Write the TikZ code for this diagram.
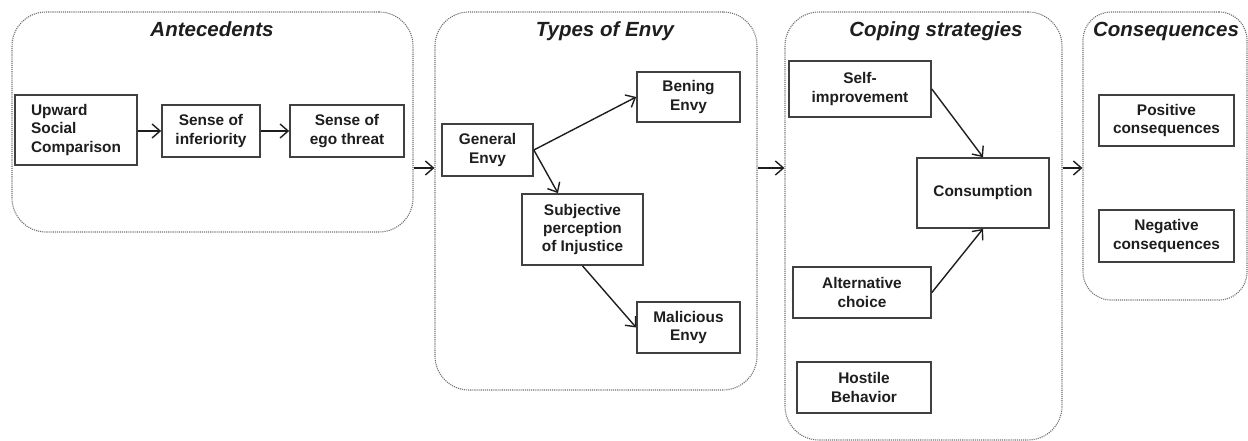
\documentclass[tikz,border=0pt]{standalone}
\usepackage{fontspec}
\setmainfont{Liberation Sans}
\usetikzlibrary{arrows.meta,calc}

\definecolor{ink}{HTML}{1E1E1E}
\definecolor{frame}{HTML}{707070}

\tikzset{
  stage/.style={draw=frame, line width=1.1pt, densely dotted, rounded corners=34pt},
  stagetitle/.style={anchor=base, text=ink, font=\fontsize{20.5}{24}\selectfont\bfseries\itshape},
  box/.style={draw=ink!85, line width=1.7pt, fill=white, text=ink, align=center,
    inner sep=2pt, font=\fontsize{15.4}{18.4}\selectfont\bfseries},
  flow/.style={draw=ink, line width=1.4pt, -{Straight Barb[length=8pt,width=14pt,line width=1.4pt]}},
}

\begin{document}
\begin{tikzpicture}[x=1pt,y=-1pt]
\useasboundingbox (0,0) rectangle (1248,441);

% stage frames
\node[stage, minimum width=401pt, minimum height=220pt] (c1) at (212.5,122) {};
\node[stage, minimum width=322pt, minimum height=378pt] (c2) at (596,201) {};
\node[stage, minimum width=277pt, minimum height=428pt] (c3) at (923.5,226) {};
\node[stage, rounded corners=28pt, minimum width=164pt, minimum height=288pt] (c4) at (1165,156) {};

% stage titles
\node[stagetitle] (t1) at (212,37) {Antecedents};
\node[stagetitle] (t2) at (605,37) {Types of Envy};
\node[stagetitle] (t3) at (936,37) {Coping strategies};
\node[stagetitle] (t4) at (1166,37) {Consequences};

% antecedents
\node[box, align=left, minimum width=122pt, minimum height=70pt] (usc) at (76,130) {Upward\\Social\\Comparison};
\node[box, minimum width=98pt, minimum height=52pt] (inf) at (211,131) {Sense of\\inferiority};
\node[box, minimum width=114pt, minimum height=52pt] (ego) at (347,131) {Sense of\\ego threat};

% types of envy
\node[box, minimum width=91pt, minimum height=52pt] (gen) at (487.5,150) {General\\Envy};
\node[box, minimum width=103pt, minimum height=50pt] (ben) at (688.5,97) {Bening\\Envy};
\node[box, minimum width=121pt, minimum height=71pt] (sub) at (582.5,229.5) {Subjective\\perception\\of Injustice};
\node[box, minimum width=103pt, minimum height=51pt] (mal) at (688.5,327.5) {Malicious\\Envy};

% coping strategies
\node[box, minimum width=142pt, minimum height=56pt] (self) at (860,89) {Self-\\improvement};
\node[box, minimum width=132pt, minimum height=70pt] (cons) at (983,193) {Consumption};
\node[box, minimum width=138pt, minimum height=51pt] (alt) at (862,292.5) {Alternative\\choice};
\node[box, minimum width=134pt, minimum height=51pt] (hos) at (864,387.5) {Hostile\\Behavior};

% consequences
\node[box, minimum width=135pt, minimum height=51pt] (pos) at (1166.5,120.5) {Positive\\consequences};
\node[box, minimum width=135pt, minimum height=52pt] (neg) at (1166.5,236) {Negative\\consequences};

% links inside the stages
\draw[flow] (usc.east |- inf.west) -- (inf.west);
\draw[flow] (inf.east) -- (ego.west);
\draw[flow] (gen.east) -- (ben.west);
\draw[flow] (gen.east) -- ($(sub.north west)!0.3!(sub.north east)$);
\draw[flow] (sub.south) -- (mal.west);
\draw[flow] (self.east) -- (cons.north);
\draw[flow] (alt.east) -- (cons.south);

% links between the stages
\coordinate (mid) at (0,168);
\draw[flow] (c1.east |- mid) -- (c2.west |- mid);
\draw[flow] (c2.east |- mid) -- (c3.west |- mid);
\draw[flow] (c3.east |- mid) -- (c4.west |- mid);
\end{tikzpicture}
\end{document}
